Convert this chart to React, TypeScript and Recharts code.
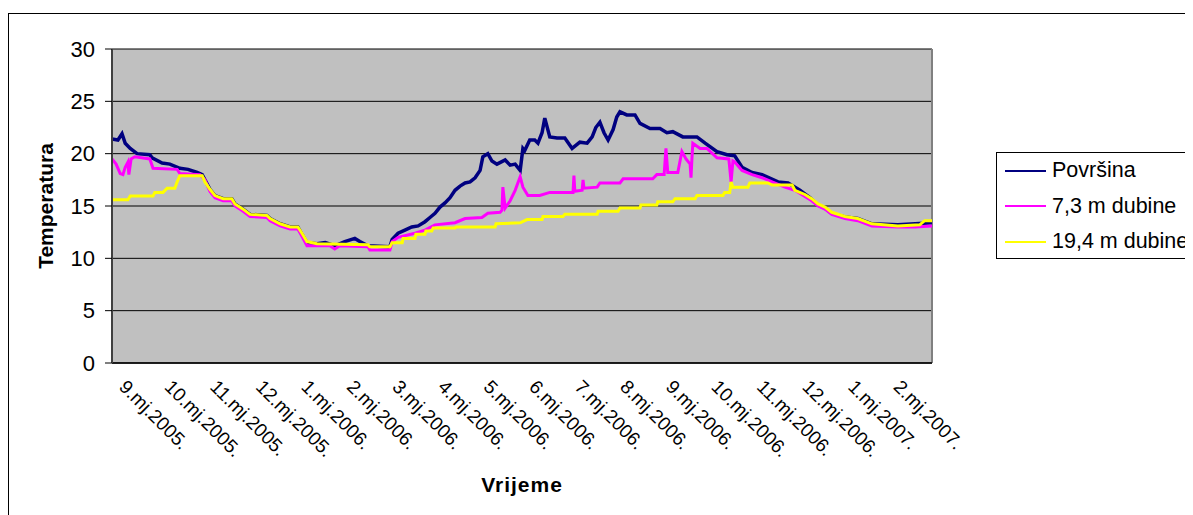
import React from 'react';
import { LineChart, Line, XAxis, YAxis, CartesianGrid, Legend, ReferenceLine, Label } from 'recharts';

const FONT = '"Liberation Sans", Arial, sans-serif';

// month labels on the category axis (one every month, Sep 2005 - Feb 2007)
const monthLabels = [
  '9.mj.2005.', '10.mj.2005.', '11.mj.2005.', '12.mj.2005.',
  '1.mj.2006.', '2.mj.2006.', '3.mj.2006.', '4.mj.2006.', '5.mj.2006.', '6.mj.2006.',
  '7.mj.2006.', '8.mj.2006.', '9.mj.2006.', '10.mj.2006.', '11.mj.2006.', '12.mj.2006.',
  '1.mj.2007.', '2.mj.2007.',
];
const monthTicks = monthLabels.map((_, i) => i);
const tempTicks = [0, 5, 10, 15, 20, 25, 30];
const seriesNames = ['Površina', '7,3 m dubine', '19,4 m dubine'];

// [month since 1.9.2005, temperature °C]
const surfacePoints: [number, number][] = [
  [0, 21.4], [0.13, 21.3], [0.22, 21.9], [0.29, 21.0], [0.4, 20.5], [0.55, 20.0], [0.83, 19.9],
  [0.88, 19.6], [1.1, 19.1], [1.27, 19.0], [1.49, 18.6], [1.67, 18.5], [1.87, 18.2], [1.98, 18.0],
  [2.15, 16.6], [2.26, 16.0], [2.44, 15.7], [2.63, 15.7], [2.7, 15.2], [2.88, 14.7], [3.03, 14.2],
  [3.4, 14.1], [3.47, 13.8], [3.69, 13.3], [3.91, 13.0], [4.08, 13.0], [4.17, 12.3], [4.28, 11.5],
  [4.5, 11.4], [4.68, 11.5], [4.89, 11.2], [5.11, 11.6], [5.33, 11.9], [5.44, 11.6], [5.62, 11.2],
  [6.1, 11.1], [6.15, 11.8], [6.28, 12.4], [6.43, 12.7], [6.58, 13.0], [6.72, 13.1], [6.87, 13.5],
  [6.98, 13.9], [7.09, 14.3], [7.2, 14.9], [7.31, 15.3], [7.42, 15.8], [7.53, 16.5], [7.64, 16.9],
  [7.75, 17.2], [7.86, 17.3], [7.97, 17.7], [8.08, 18.4], [8.14, 19.7], [8.25, 20.0], [8.34, 19.3],
  [8.45, 19.0], [8.63, 19.4], [8.74, 18.9], [8.85, 19.0], [8.96, 18.4], [9.02, 20.5], [9.06, 20.3],
  [9.17, 21.3], [9.28, 21.3], [9.35, 21.0], [9.44, 22.0], [9.5, 23.4], [9.61, 21.6], [9.77, 21.5],
  [9.94, 21.5], [10.1, 20.5], [10.27, 21.1], [10.43, 21.0], [10.54, 21.6], [10.62, 22.5], [10.71, 23.0],
  [10.8, 22.0], [10.89, 21.3], [11.0, 22.3], [11.08, 23.5], [11.15, 24.0], [11.3, 23.7], [11.48, 23.7],
  [11.59, 22.9], [11.81, 22.4], [12.03, 22.4], [12.18, 22.0], [12.31, 22.1], [12.53, 21.6], [12.84, 21.6],
  [13.02, 21.0], [13.28, 20.2], [13.5, 19.9], [13.67, 19.8], [13.83, 18.7], [14.05, 18.2], [14.27, 18.0],
  [14.62, 17.3], [14.84, 17.2], [15.1, 16.5], [15.32, 15.8], [15.5, 15.1], [15.65, 14.8], [15.8, 14.3],
  [16.09, 13.95], [16.37, 13.8], [16.68, 13.3], [17.25, 13.2], [17.63, 13.3], [18.0, 13.4],
];

const depth73Points: [number, number][] = [
  [0, 19.5], [0.09, 19.0], [0.18, 18.1], [0.24, 18.0], [0.29, 18.7], [0.35, 19.2], [0.37, 18.0],
  [0.42, 19.5], [0.5, 19.7], [0.83, 19.5], [0.9, 18.6], [1.43, 18.5], [1.49, 18.1], [1.93, 18.0],
  [2.04, 17.5], [2.15, 16.4], [2.26, 15.8], [2.44, 15.5], [2.63, 15.5], [2.7, 15.0], [2.88, 14.5],
  [3.03, 14.0], [3.4, 13.9], [3.47, 13.6], [3.69, 13.1], [3.91, 12.8], [4.08, 12.8], [4.17, 12.1],
  [4.28, 11.2], [4.5, 11.2], [4.78, 11.2], [4.89, 10.9], [5.0, 11.2], [5.62, 11.1], [5.66, 10.8],
  [6.1, 10.8], [6.15, 11.6], [6.28, 12.0], [6.65, 12.4], [6.87, 12.7], [7.09, 13.2], [7.53, 13.4],
  [7.75, 13.8], [8.12, 13.9], [8.25, 14.3], [8.52, 14.4], [8.56, 14.6], [8.58, 16.8], [8.63, 14.8],
  [8.74, 15.5], [8.85, 16.5], [8.96, 17.8], [9.02, 16.8], [9.13, 16.0], [9.39, 16.0], [9.61, 16.3],
  [10.12, 16.3], [10.14, 17.9], [10.16, 16.4], [10.32, 16.5], [10.34, 17.5], [10.36, 16.7], [10.65, 16.8],
  [10.71, 17.2], [11.15, 17.2], [11.22, 17.6], [11.87, 17.6], [11.96, 18.0], [12.12, 18.0], [12.16, 20.5],
  [12.2, 18.2], [12.42, 18.2], [12.51, 20.2], [12.6, 19.5], [12.69, 19.0], [12.71, 17.7], [12.73, 19.5],
  [12.75, 21.0], [12.91, 20.5], [13.06, 20.5], [13.28, 19.6], [13.54, 19.5], [13.59, 17.3], [13.63, 19.3],
  [13.67, 19.2], [13.83, 18.4], [14.05, 18.0], [14.27, 17.7], [14.49, 17.3], [14.77, 16.8], [14.99, 16.5],
  [15.21, 15.9], [15.36, 15.5], [15.5, 15.0], [15.65, 14.7], [15.8, 14.2], [16.09, 13.8], [16.37, 13.6],
  [16.68, 13.1], [17.25, 13.0], [17.63, 13.0], [18.0, 13.1],
];

const depth194Points: [number, number][] = [
  [0, 15.6], [0.35, 15.6], [0.4, 15.95], [0.9, 15.95], [0.94, 16.3], [1.12, 16.3], [1.21, 16.7],
  [1.38, 16.7], [1.43, 17.3], [1.49, 17.9], [1.98, 17.9], [2.04, 17.3], [2.15, 16.6], [2.26, 16.0],
  [2.44, 15.7], [2.63, 15.7], [2.7, 15.2], [2.88, 14.7], [3.03, 14.2], [3.4, 14.1], [3.47, 13.8],
  [3.69, 13.3], [3.91, 13.0], [4.08, 13.0], [4.17, 12.4], [4.28, 11.6], [4.5, 11.4], [5.62, 11.3],
  [5.66, 11.1], [6.1, 11.1], [6.15, 11.5], [6.37, 11.5], [6.39, 11.9], [6.65, 11.9], [6.67, 12.3],
  [6.87, 12.3], [6.89, 12.6], [7.02, 12.6], [7.05, 12.9], [7.53, 12.9], [7.55, 13.0], [8.41, 13.0],
  [8.43, 13.3], [8.96, 13.4], [9.11, 13.7], [9.44, 13.7], [9.46, 14.0], [9.9, 14.0], [9.94, 14.2],
  [10.65, 14.2], [10.67, 14.5], [11.11, 14.5], [11.15, 14.8], [11.59, 14.8], [11.61, 15.1], [11.96, 15.1],
  [11.98, 15.4], [12.31, 15.4], [12.36, 15.7], [12.8, 15.7], [12.84, 16.0], [13.41, 16.0], [13.45, 16.3],
  [13.56, 16.3], [13.59, 17.3], [13.63, 16.8], [13.96, 16.8], [14.0, 17.2], [14.4, 17.2], [14.49, 17.0],
  [14.93, 17.0], [14.99, 16.5], [15.21, 16.1], [15.36, 15.7], [15.5, 15.2], [15.65, 14.9], [15.8, 14.4],
  [16.09, 14.0], [16.37, 13.8], [16.68, 13.3], [17.25, 13.1], [17.73, 13.2], [17.84, 13.6], [18.0, 13.6],
];

const toRows = (pts: [number, number][]) => pts.map(([month, temp]) => ({ month, temp }));

const MonthTick = ({ x, y, payload }: any) => (
  <text
    transform={`translate(${x + 6},${y + 25}) rotate(45)`}
    fontSize={19}
    fontFamily={FONT}
    fill="#000"
  >
    {monthLabels[payload.value]}
  </text>
);

const renderLegend = ({ payload }: any) => {
  const items = [...(payload || [])].sort(
    (a: any, b: any) => seriesNames.indexOf(a.value) - seriesNames.indexOf(b.value)
  );
  return (
    <div
      style={{
        border: '1px solid #000',
        background: '#fff',
        width: 205,
        height: 105,
        fontFamily: FONT,
        fontSize: 21.5,
        color: '#000',
      }}
    >
      {items.map((entry: any) => (
        <div key={entry.value} style={{ display: 'flex', alignItems: 'center', height: 35.5 }}>
          <span
            style={{
              display: 'inline-block',
              width: 41,
              height: 2,
              background: entry.color,
              marginLeft: 8,
              marginRight: 6,
            }}
          />
          <span style={{ whiteSpace: 'nowrap' }}>{entry.value}</span>
        </div>
      ))}
    </div>
  );
};

const App: React.FC = () => {
  return (
    <div style={{ position: 'relative', top: 5 }}>
      <div
        style={{
          width: 1200,
          height: 520,
          borderTop: '1px solid #000',
          borderLeft: '1px solid #000',
        }}
      >
        <LineChart width={1190} height={500} margin={{ top: 35, right: 267, left: 8, bottom: 11 }}>
          <CartesianGrid horizontal vertical={false} stroke="#000" fill="#C0C0C0" fillOpacity={1} />
          <XAxis
            type="number"
            dataKey="month"
            domain={[0, 18]}
            ticks={monthTicks}
            interval={0}
            height={140}
            tickLine={false}
            tickSize={0}
            tickMargin={0}
            axisLine={{ stroke: '#000', strokeWidth: 1.5 }}
            tick={<MonthTick />}
          >
            <Label
              content={({ viewBox }: any) => (
                <text
                  x={viewBox.x + viewBox.width / 2}
                  y={viewBox.y + 129}
                  textAnchor="middle"
                  fontSize={21}
                  fontWeight="bold"
                  fontFamily={FONT}
                  letterSpacing={1}
                  fill="#000"
                >
                  Vrijeme
                </text>
              )}
            />
          </XAxis>
          <YAxis
            type="number"
            domain={[0, 30]}
            ticks={tempTicks}
            width={95}
            tickSize={7}
            tickMargin={10}
            tickLine={{ stroke: '#000' }}
            axisLine={{ stroke: '#404040', strokeWidth: 2 }}
            tick={{ fontSize: 22, fill: '#000', fontFamily: FONT }}
          >
            <Label
              content={({ viewBox }: any) => (
                <text
                  transform={`translate(${viewBox.x + 36},${viewBox.y + viewBox.height / 2}) rotate(-90)`}
                  textAnchor="middle"
                  fontSize={21}
                  fontWeight="bold"
                  fontFamily={FONT}
                  fill="#000"
                >
                  Temperatura
                </text>
              )}
            />
          </YAxis>
          <ReferenceLine x={18} stroke="#808080" strokeWidth={2} />
          <Legend
            layout="horizontal"
            verticalAlign="middle"
            align="center"
            content={renderLegend}
            wrapperStyle={{ left: 987, top: 138, width: 207, height: 107 }}
          />
          <Line
            data={toRows(surfacePoints)}
            dataKey="temp"
            name={seriesNames[0]}
            stroke="#000080"
            strokeWidth={3.5}
            dot={false}
            type="linear"
            isAnimationActive={false}
          />
          <Line
            data={toRows(depth73Points)}
            dataKey="temp"
            name={seriesNames[1]}
            stroke="#FF00FF"
            strokeWidth={3}
            dot={false}
            type="linear"
            isAnimationActive={false}
          />
          <Line
            data={toRows(depth194Points)}
            dataKey="temp"
            name={seriesNames[2]}
            stroke="#FFFF00"
            strokeWidth={3}
            dot={false}
            type="linear"
            isAnimationActive={false}
          />
        </LineChart>
      </div>
    </div>
  );
};

export default App;
